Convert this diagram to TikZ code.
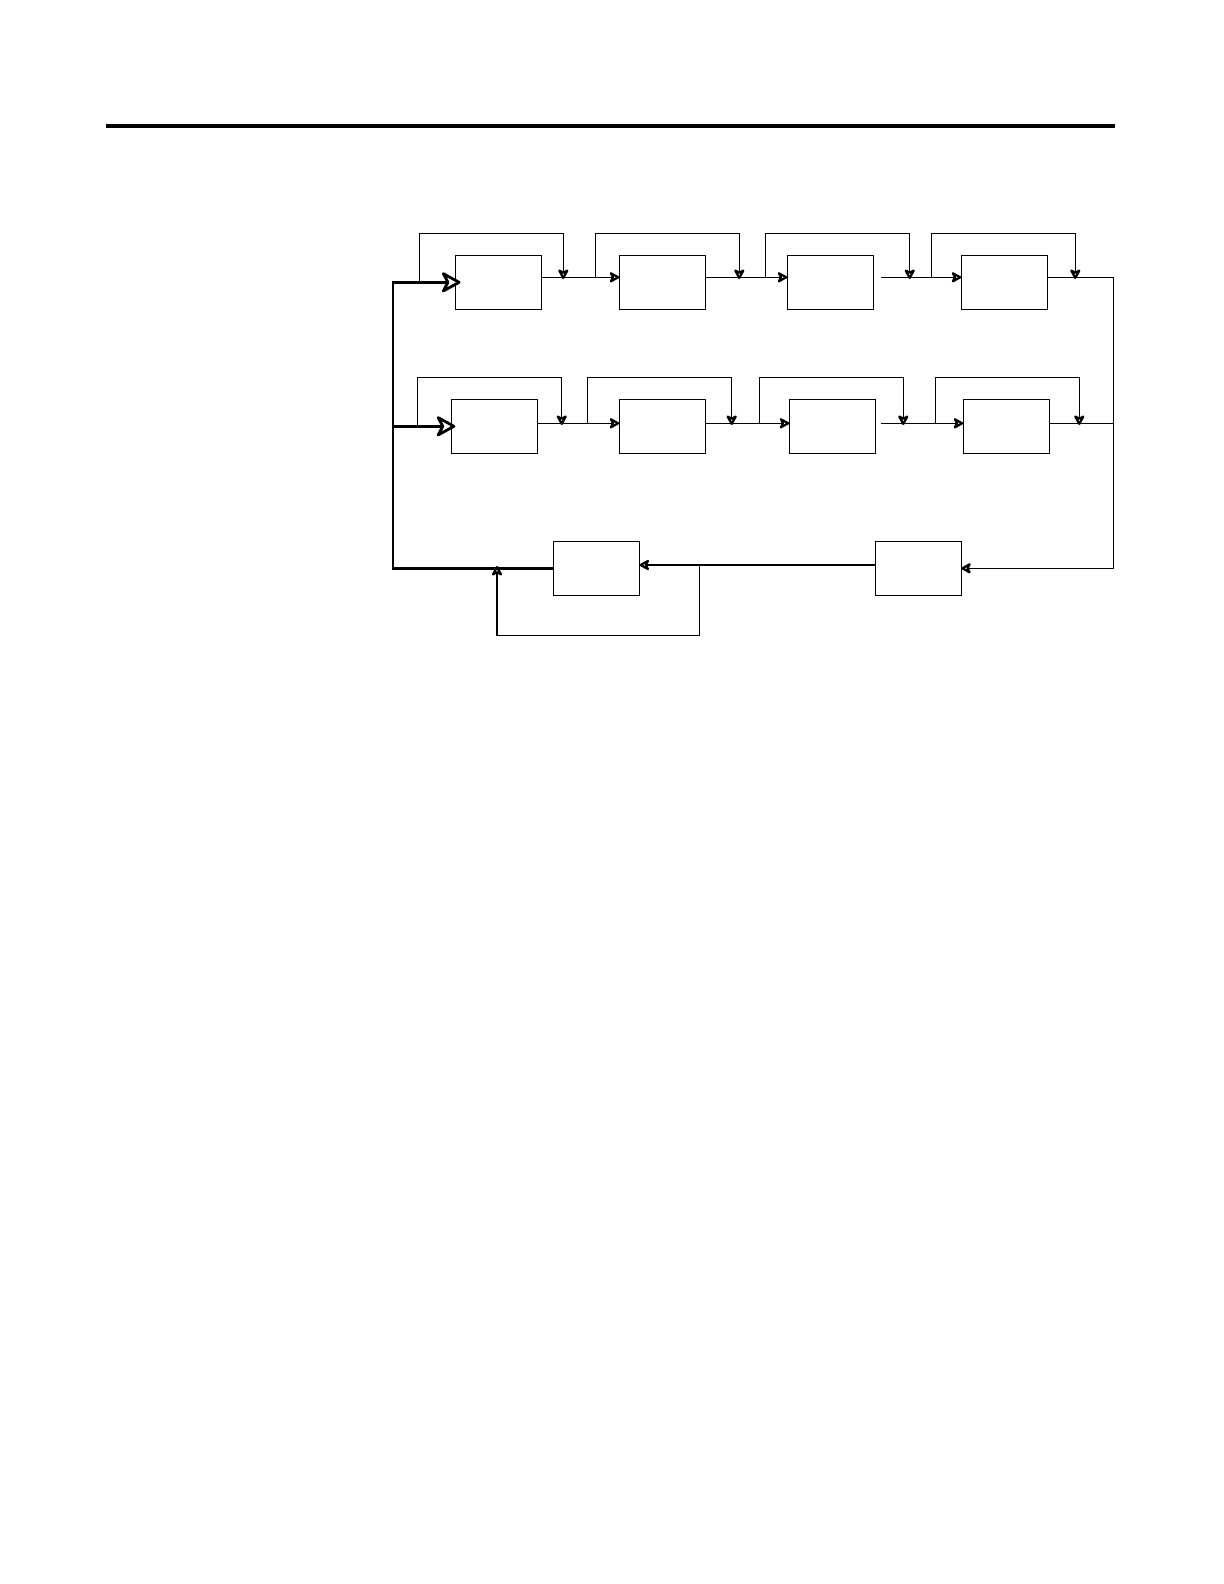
\documentclass[tikz,border=0pt]{standalone}
\usetikzlibrary{arrows.meta}
\begin{document}
\begin{tikzpicture}[x=0.5pt,y=-0.5pt,
  blk/.style={draw, line width=0.65pt, minimum width=43pt, minimum height=27pt, inner sep=0pt, outer sep=0pt},
  thn/.style={line width=0.65pt},
  thk/.style={line width=1.2pt},
  sa/.tip={Stealth[length=6pt,width=6.5pt,inset=1.6pt,fill=white,line width=1.1pt,round]},
  ba/.tip={Stealth[length=11pt,width=12pt,inset=3.2pt,fill=white,line width=1.4pt,round]},
]
\useasboundingbox (0,0) rectangle (1224,1584);
% top rule
\coordinate (ruleL) at (106,126.5);
\coordinate (ruleR) at (1115,126.5);
\draw[line width=2pt] (ruleL) -- (ruleR);

% boxes
\node[blk] (T1) at (498.5,282.3) {};
\node[blk] (T2) at (662.3,282.3) {};
\node[blk] (T3) at (830.3,282.3) {};
\node[blk] (T4) at (1004.3,282.3) {};
\node[blk] (M1) at (494.3,426.3) {};
\node[blk] (M2) at (662.3,426.3) {};
\node[blk] (M3) at (832.3,426.3) {};
\node[blk] (M4) at (1006.3,426.3) {};
\node[blk] (B1) at (596.5,568.3) {};
\node[blk] (B2) at (918.2,568.3) {};

% helper coordinates
\coordinate (rT) at (0,277.3);
\coordinate (lT) at (0,233.3);
\coordinate (rM) at (0,423.3);
\coordinate (lM) at (0,377.3);
\coordinate (rB) at (0,565);
\coordinate (bot) at (0,635.3);
\coordinate (cL) at (393,568.3);

% thick feed lines
\draw[thk,-ba,shorten >=-2.5pt] (B1.west) -- (cL) |- (T1.west);
\draw[thk,-ba,shorten >=-2pt] (cL |- M1.west) -- (M1.west);

% top row flow
\coordinate (T3o) at (881,277.3);
\draw[thn,-sa] (T1.east |- rT) -- (T2.west |- rT);
\draw[thn,-sa] (T2.east |- rT) -- (T3.west |- rT);
\draw[thn,-sa] (T3o) -- (T4.west |- rT);

% top row loops
\coordinate (a1) at (419.3,282.3); \coordinate (b1) at (563.3,279);
\coordinate (a2) at (595.3,277.3); \coordinate (b2) at (739.3,279);
\coordinate (a3) at (765.3,277.3); \coordinate (b3) at (909.7,279);
\coordinate (a4) at (931.3,277.3); \coordinate (b4) at (1075.3,279);
\foreach \i in {1,2,3,4}{
  \draw[thn,-sa] (a\i) |- (b\i |- lT) -- (b\i);
}

% middle row flow
\coordinate (M3o) at (881,423.3);
\draw[thn,-sa] (M1.east |- rM) -- (M2.west |- rM);
\draw[thn,-sa] (M2.east |- rM) -- (M3.west |- rM);
\draw[thn,-sa] (M3o) -- (M4.west |- rM);

% middle row loops
\coordinate (a5) at (417.3,426.3); \coordinate (b5) at (561.7,425);
\coordinate (a6) at (587.3,423.3); \coordinate (b6) at (731.7,425);
\coordinate (a7) at (759.3,423.3); \coordinate (b7) at (903.3,425);
\coordinate (a8) at (935.3,423.3); \coordinate (b8) at (1079.3,425);
\foreach \i in {5,6,7,8}{
  \draw[thn,-sa] (a\i) |- (b\i |- lM) -- (b\i);
}

% right return column
\coordinate (R1) at (1113.3,277.3);
\coordinate (R2) at (1113.3,423.3);
\draw[thn,-sa] (T4.east |- rT) -- (R1) |- (B2.east);
\draw[thn] (M4.east |- rM) -- (R2);

% bottom row
\draw[thn,-sa] (B2.west |- rB) -- (B1.east |- rB);
\coordinate (f1) at (699.5,565);
\coordinate (f2) at (497,566);
\draw[thn,-sa] (f1) -- (f1 |- bot) -| (f2);
\end{tikzpicture}
\end{document}
